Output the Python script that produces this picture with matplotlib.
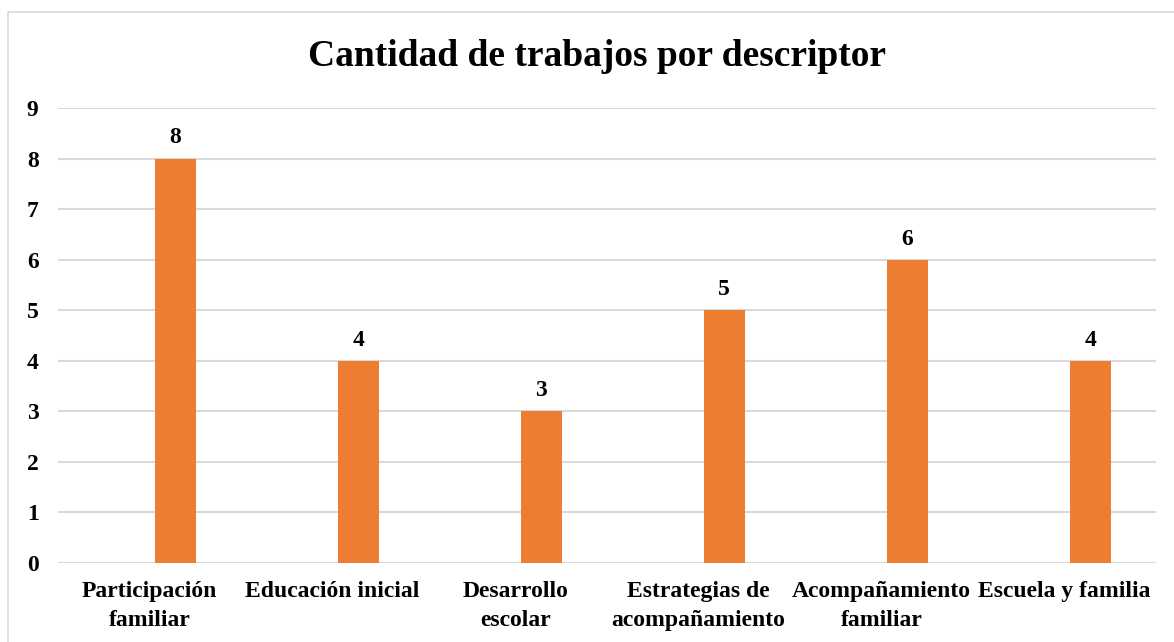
import matplotlib.pyplot as plt
from matplotlib.patches import Rectangle

# Datos del grafico
descriptores = ['Participación\nfamiliar', 'Educación inicial', 'Desarrollo\nescolar',
                'Estrategias de\nacompañamiento', 'Acompañamiento\nfamiliar', 'Escuela y familia']
cantidad = [8, 4, 3, 5, 6, 4]
y_ticks = [0, 1, 2, 3, 4, 5, 6, 7, 8, 9]

plt.rcParams['font.family'] = ['Liberation Serif', 'DejaVu Serif']
plt.rcParams['font.weight'] = 'bold'

fig = plt.figure(figsize=(11.74, 6.42), dpi=100)
ax = fig.add_axes([58 / 1174, 1 - 563 / 642, (1156 - 58) / 1174, (563 - 108) / 642])

# marco exterior
fig.patches.append(Rectangle((8 / 1174, -0.01), 1.0, 1 - 12 / 642 + 0.01, transform=fig.transFigure,
                             fill=False, edgecolor='#D9D9D9', linewidth=1.2))

x = list(range(len(descriptores)))
# las barras quedan algo corridas a la derecha de cada categoria (como en Excel)
x_barras = [i + 0.14 for i in x]
bars = ax.bar(x_barras, cantidad, width=0.224, color='#ED7D31', zorder=3)

for b, v in zip(bars, cantidad):
    ax.text(b.get_x() + b.get_width() / 2, v + 0.2, str(v), ha='center', va='bottom',
            fontsize=17, fontweight='bold')

ax.set_xlim(-0.5, len(descriptores) - 0.5)
ax.set_ylim(0, 9)
ax.set_yticks(y_ticks)
ax.set_xticks(x)
ax.set_xticklabels(descriptores, fontsize=17, fontweight='bold', linespacing=1.5)
ax.tick_params(axis='both', length=0, labelsize=17)
ax.tick_params(axis='y', pad=14)
ax.tick_params(axis='x', pad=13)
for lbl in ax.get_yticklabels():
    lbl.set_fontweight('bold')

ax.grid(axis='y', color='#D9D9D9', linewidth=1.5, zorder=0)
for s in ax.spines.values():
    s.set_visible(False)

fig.text(597 / 1174, 1 - 56 / 642, 'Cantidad de trabajos por descriptor', ha='center', va='center',
         fontsize=27, fontweight='bold')

fig.savefig('out.png', dpi=100)
